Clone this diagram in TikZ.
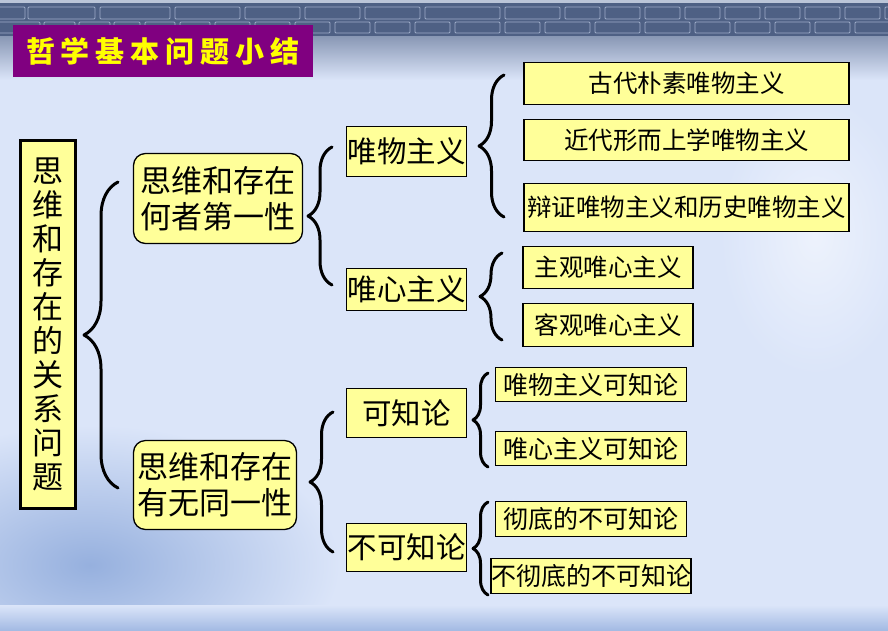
\documentclass[tikz,border=0pt]{standalone}
\usepackage{fontspec}
\newfontfamily\cjk{Noto Sans CJK SC}
\usetikzlibrary{decorations.pathreplacing}

\definecolor{bg}{RGB}{219,229,249}
\definecolor{band}{RGB}{78,96,132}
\definecolor{brick}{RGB}{158,172,200}
\definecolor{boxfill}{RGB}{255,255,153}
\definecolor{titlebg}{RGB}{128,0,128}
\definecolor{titlefg}{RGB}{255,255,0}
\definecolor{haze}{RGB}{150,176,222}

\begin{document}
\begin{tikzpicture}[x=1pt,y=-1pt,
  box/.style={draw=black, line width=1.3pt, fill=boxfill, inner sep=0pt,
    text=black, align=center},
  bigtext/.style={font=\cjk\fontsize{31}{36}\selectfont},
  midtext/.style={font=\cjk\fontsize{29.5}{32}\selectfont},
  smalltext/.style={font=\cjk\fontsize{24.5}{28}\selectfont},
  leaftext/.style={font=\cjk\fontsize{25}{28}\selectfont},
  curly/.style={decorate, decoration={brace, amplitude=#1},
    line width=3pt, line cap=round, line join=round},
]
\useasboundingbox (0,0) rectangle (888,630);

% backdrop
\fill[bg] (0,0) rectangle (888,630);
\shade[inner color=white!50!bg, outer color=bg] (815,235) ellipse (95 and 140);
\shade[inner color=haze, outer color=bg] (90,565) ellipse (250 and 140);
\shade[top color=bg, bottom color=haze!80!bg] (0,605) rectangle (888,630);
\shade[top color=band!60!bg, bottom color=bg] (0,35) rectangle (888,80);

% brick band along the top edge
\fill[band] (0,0) rectangle (888,36);
\fill[brick!70!white] (0,0) rectangle (888,3);
\foreach \a/\b in {-20/25,28/95,100/170,175/240,245/300,305/360,365/420,
    425/500,505/560,565/600,605/640,645/680,685/720,725/760,765/800,
    805/840,845/880,885/920}
  \draw[brick, line width=0.9pt, rounded corners=1pt] (\a,7) rectangle (\b,19);
\foreach \a/\b in {-10/40,44/75,79/110,114/140,145/175,180/210,215/250,
    255/290,295/330,335/370,375/410,415/450,455/500,505/540,545/590,
    595/640,645/690,695/730,735/770,775/810,815/850,855/890}
  \draw[brick, line width=0.9pt, rounded corners=1pt] (\a,22) rectangle (\b,33);

% heading
\node[fill=titlebg, inner sep=0pt, minimum width=300pt, minimum height=52pt,
  text=titlefg, font=\cjk\bfseries\fontsize{29}{31}\selectfont]
  (title) at (163,51)
  {哲\hspace{6pt}学\hspace{6pt}基\hspace{6pt}本\hspace{6pt}问\hspace{6pt}题\hspace{6pt}小\hspace{6pt}结};

% root
\node[box, line width=3.5pt, minimum width=55pt, minimum height=368pt,
  font=\cjk\fontsize{31}{34}\selectfont] (root) at (48,324.5)
  {思\\维\\和\\存\\在\\的\\关\\系\\问\\题};

% second level
\node[box, bigtext, rounded corners=12pt, minimum width=169pt, minimum height=90pt]
  (first) at (218,198.5) {思维和存在\\何者第一性};
\node[box, bigtext, rounded corners=12pt, minimum width=163pt, minimum height=89pt]
  (same) at (215,485) {思维和存在\\有无同一性};

% third level
\node[box, midtext, minimum width=120pt, minimum height=50pt]
  (mat) at (406.5,151.5) {唯物主义};
\node[box, midtext, minimum width=120pt, minimum height=42pt]
  (ide) at (406.5,289.5) {唯心主义};
\node[box, midtext, minimum width=120pt, minimum height=49pt]
  (know) at (406.5,413) {可知论};
\node[box, midtext, minimum width=120pt, minimum height=48pt]
  (agn) at (406.5,547.5) {不可知论};

% leaves
\node[box, smalltext, minimum width=325pt, minimum height=42pt]
  (m1) at (686.5,83.5) {古代朴素唯物主义};
\node[box, smalltext, minimum width=325pt, minimum height=41pt]
  (m2) at (686.5,140) {近代形而上学唯物主义};
\node[box, smalltext, minimum width=325pt, minimum height=48pt]
  (m3) at (686.5,207.5) {辩证唯物主义和历史唯物主义};
\node[box, smalltext, minimum width=170pt, minimum height=42pt]
  (i1) at (608,267.5) {主观唯心主义};
\node[box, smalltext, minimum width=170pt, minimum height=43pt]
  (i2) at (608,325) {客观唯心主义};
\node[box, leaftext, minimum width=191pt, minimum height=34pt]
  (k1) at (591,384.5) {唯物主义可知论};
\node[box, leaftext, minimum width=191pt, minimum height=34pt]
  (k2) at (591,448.5) {唯心主义可知论};
\node[box, leaftext, minimum width=191pt, minimum height=35pt]
  (a1) at (591,519) {彻底的不可知论};
\node[box, leaftext, minimum width=191pt, minimum height=35pt]
  (a2) at (591,576) {不彻底的不可知论};

% brace end points
\coordinate (rootT) at (118,182);  \coordinate (rootB) at (118,488);
\coordinate (firstT) at (332,147); \coordinate (firstB) at (332,285);
\coordinate (sameT) at (333,412);  \coordinate (sameB) at (333,552);
\coordinate (matT) at (504,75);    \coordinate (matB) at (504,217);
\coordinate (ideT) at (502,253);   \coordinate (ideB) at (502,340);
\coordinate (knowT) at (488,373);  \coordinate (knowB) at (488,467);
\coordinate (agnT) at (488,502);   \coordinate (agnB) at (488,595);

% braces
\draw[curly=34pt] (rootB) -- (rootT);
\draw[curly=24pt] (firstB) -- (firstT);
\draw[curly=23pt] (sameB) -- (sameT);
\draw[curly=25pt] (matB) -- (matT);
\draw[curly=22pt] (ideB) -- (ideT);
\draw[curly=15pt] (knowB) -- (knowT);
\draw[curly=15pt] (agnB) -- (agnT);
\end{tikzpicture}
\end{document}
